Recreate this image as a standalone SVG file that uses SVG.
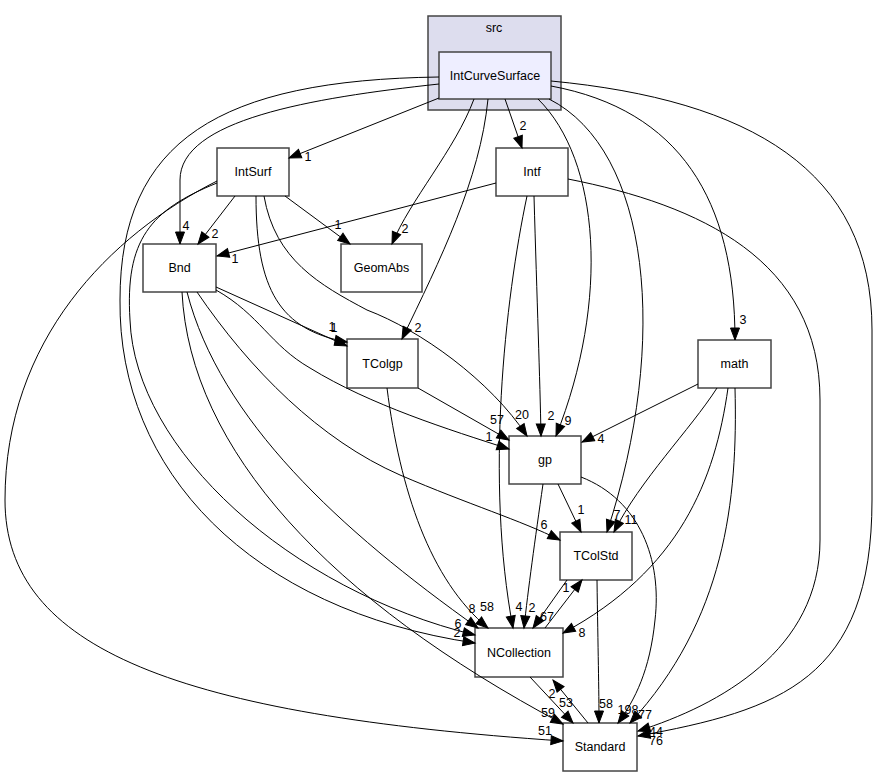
<svg xmlns="http://www.w3.org/2000/svg" width="877" height="777" viewBox="0 0 877 777">
<style>
text{font-family:"Liberation Sans",Arial,Helvetica,sans-serif;font-size:12.5px;fill:#000;text-anchor:middle}
.node rect{fill:#fff;stroke:#444;stroke-width:1.5}
.e path{fill:none;stroke:#000;stroke-width:1;marker-end:url(#arr)}
</style>
<defs>
<marker id="arr" markerUnits="userSpaceOnUse" markerWidth="14" markerHeight="10" refX="12" refY="4.5" orient="auto" overflow="visible">
<path d="M0,0 L12,4.5 L0,9 z" fill="#000" stroke="#000" stroke-width="1"/>
</marker>
</defs>
<rect width="877" height="777" fill="#fff"/>
<g id="cluster_src">
<rect x="428" y="16" width="133" height="94" fill="#ddddee" stroke="#444" stroke-width="1.5"/>
<text x="494" y="32">src</text>
</g>
<g id="IntCurveSurface" class="node"><rect x="439" y="52" width="112" height="47" style="fill:#eeeeff"/><text x="495" y="80">IntCurveSurface</text></g>
<g id="IntSurf" class="node"><rect x="217" y="148" width="72" height="48"/><text x="253" y="176">IntSurf</text></g>
<g id="Intf" class="node"><rect x="496" y="148" width="72" height="48"/><text x="532" y="176">Intf</text></g>
<g id="Bnd" class="node"><rect x="143" y="244" width="73" height="48"/><text x="179.5" y="272">Bnd</text></g>
<g id="GeomAbs" class="node"><rect x="341" y="244" width="81" height="48"/><text x="381.5" y="272">GeomAbs</text></g>
<g id="TColgp" class="node"><rect x="347" y="339" width="71" height="49"/><text x="382.5" y="368">TColgp</text></g>
<g id="math" class="node"><rect x="698" y="340" width="73" height="48"/><text x="734.5" y="368">math</text></g>
<g id="gp" class="node"><rect x="509" y="436" width="72" height="48"/><text x="545" y="464">gp</text></g>
<g id="TColStd" class="node"><rect x="560" y="532" width="72" height="48"/><text x="596" y="560">TColStd</text></g>
<g id="NCollection" class="node"><rect x="475" y="628" width="88" height="49"/><text x="519" y="657">NCollection</text></g>
<g id="Standard" class="node"><rect x="563" y="723" width="74" height="48"/><text x="600" y="751">Standard</text></g>
<g id="connectors" class="e">
<path d="M439,98 L289,158"/>
<path d="M439,84 C310,98 180,120 180,180 L180,244"/>
<path d="M439,77 C220,80 120,140 120,300 C118,470 250,610 475,643"/>
<path d="M474,99 C455,150 410,200 392,244"/>
<path d="M488,99 C480,180 440,260 402,339"/>
<path d="M505,99 L522,148"/>
<path d="M538,99 C600,160 610,300 556,436"/>
<path d="M549,99 C650,150 670,340 607,532"/>
<path d="M551,86 C680,110 735,200 735,340"/>
<path d="M551,81 C750,100 872,170 872,330 L872,500 C872,680 780,710 638,736"/>
<path d="M235,196 L198,244"/>
<path d="M285,196 L350,244"/>
<path d="M256,196 C256,290 280,330 347,342"/>
<path d="M264,196 C275,260 320,285 367,310 C420,330 490,380 527,436"/>
<path d="M217,183 C150,210 125,240 130,320 C135,450 290,590 475,635"/>
<path d="M217,181 C110,235 5,340 5,500 C5,650 180,715 563,741"/>
<path d="M496,183 L217,256"/>
<path d="M527,196 C505,300 485,480 513,628"/>
<path d="M534,196 C537,300 540,380 541,436"/>
<path d="M568,179 C700,205 820,260 820,400 L820,540 C820,650 720,705 638,731"/>
<path d="M216,287 L347,346"/>
<path d="M216,290 C260,315 270,345 310,368 C370,405 450,430 509,449"/>
<path d="M197,292 C250,370 320,440 400,475 C470,505 520,520 560,540"/>
<path d="M187,292 C220,420 340,530 478,628"/>
<path d="M182,292 C190,450 330,600 563,724"/>
<path d="M418,388 L509,440"/>
<path d="M387,388 C400,490 430,580 488,628"/>
<path d="M558,484 L581,532"/>
<path d="M543,484 C535,540 528,590 524,628"/>
<path d="M581,477 C640,500 662,560 655,620 C650,670 635,700 618,723"/>
<path d="M698,384 L582,442"/>
<path d="M717,388 C690,430 640,480 614,532"/>
<path d="M728,388 C715,480 680,570 563,633"/>
<path d="M735,388 C738,500 725,620 630,723"/>
<path d="M567,580 L533,628"/>
<path d="M545,628 L582,580"/>
<path d="M597,580 C598,650 599,690 599,723"/>
<path d="M530,677 L573,723"/>
<path d="M588,723 L553,680"/>
</g>
<g id="edge-labels">
<text x="308" y="161">1</text>
<text x="186" y="230">4</text>
<text x="215" y="238">2</text>
<text x="235" y="263">1</text>
<text x="338" y="229">1</text>
<text x="405" y="233">2</text>
<text x="523" y="130">2</text>
<text x="332" y="331">1</text>
<text x="334" y="332">1</text>
<text x="418" y="332">2</text>
<text x="497" y="424">57</text>
<text x="489" y="441">1</text>
<text x="522" y="419">20</text>
<text x="551" y="420">2</text>
<text x="568" y="425">9</text>
<text x="601" y="443">4</text>
<text x="743" y="324">3</text>
<text x="581" y="514">1</text>
<text x="617" y="519">7</text>
<text x="631" y="524">11</text>
<text x="544" y="529">6</text>
<text x="472" y="613">8</text>
<text x="487" y="611">58</text>
<text x="458" y="628">6</text>
<text x="457" y="637">2</text>
<text x="519" y="611">4</text>
<text x="532" y="612">2</text>
<text x="547" y="621">67</text>
<text x="566" y="592">1</text>
<text x="582" y="637">8</text>
<text x="545" y="735">51</text>
<text x="548" y="717">59</text>
<text x="552" y="698">2</text>
<text x="566" y="707">53</text>
<text x="606" y="708">58</text>
<text x="628" y="714">198</text>
<text x="645" y="719">77</text>
<text x="656" y="736">44</text>
<text x="656" y="745">76</text>
</g>
</svg>
